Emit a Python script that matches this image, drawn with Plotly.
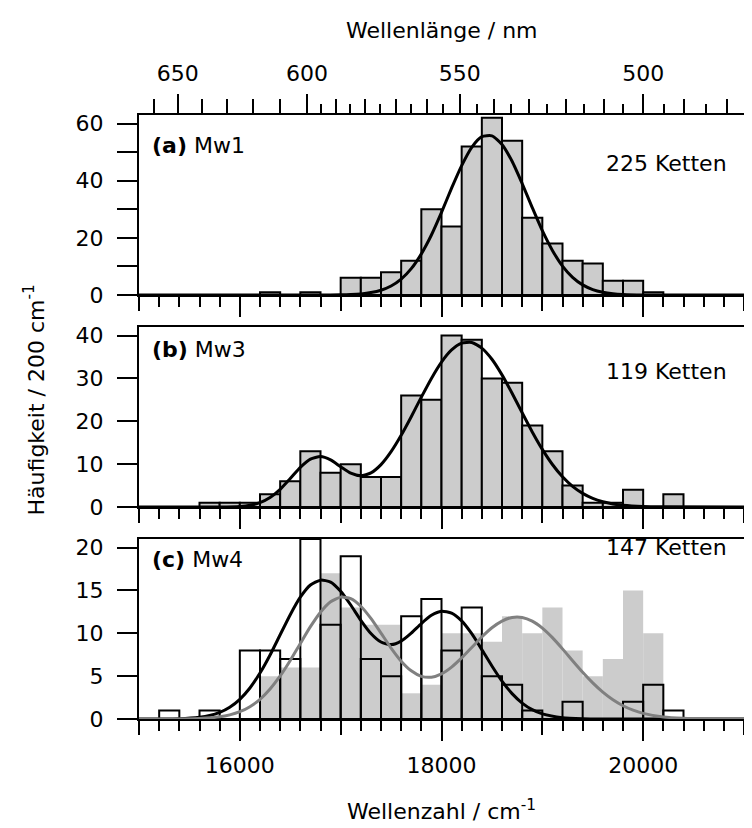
import plotly.graph_objects as go

FONT = dict(family="DejaVu Sans, Liberation Sans, Arial, sans-serif", size=22, color="black")
BAR_GREY = "#cccccc"
FIT_GREY = "#808080"

# histogram bins (left edges, 200 cm-1 wide)
bin_edges = [15200, 15400, 15600, 15800, 16000, 16200, 16400, 16600, 16800, 17000,
             17200, 17400, 17600, 17800, 18000, 18200, 18400, 18600, 18800, 19000,
             19200, 19400, 19600, 19800, 20000, 20200, 20400]

counts_mw1 = [0, 0, 0, 0, 0, 1, 0, 1, 0, 6, 6, 8, 12, 30, 24, 52, 62, 54, 27, 18,
              12, 11, 5, 5, 1, 0, 0]
counts_mw3 = [0, 0, 1, 1, 1, 3, 6, 13, 8, 10, 7, 7, 26, 25, 40, 39, 30, 29, 19, 13,
              5, 1, 1, 4, 0, 3, 0]
counts_mw4_open = [1, 0, 1, 0, 8, 8, 7, 21, 11, 19, 7, 5, 12, 14, 8, 13, 5, 4, 1, 0,
                   2, 0, 0, 2, 4, 1, 0]
counts_mw4_grey = [0, 0, 0, 0, 0, 5, 6, 6, 17, 13, 11, 11, 3, 4, 10, 10, 9, 12, 10, 13,
                   8, 5, 7, 15, 10, 0, 0]

# fitted curves
fit_mw1_x = [15000, 16400, 16800, 17000, 17100, 17200, 17300, 17400, 17500, 17600,
             17700, 17800, 17900, 18000, 18100, 18200, 18300, 18400, 18500, 18600,
             18700, 18800, 18900, 19000, 19100, 19200, 19300, 19400, 19500, 19600,
             19700, 19800, 20000, 20400, 21000]
fit_mw1_y = [0, 0, 0.01, 0.07, 0.17, 0.39, 0.84, 1.67, 3.14, 5.55,
             9.21, 14.4, 21.0, 28.9, 37.4, 45.3, 51.7, 55.4, 55.7, 52.7,
             46.8, 39.0, 30.6, 22.5, 15.6, 10.1, 6.18, 3.54, 1.90, 0.97,
             0.46, 0.2, 0.03, 0, 0]

fit_mw3_x = [15000, 15800, 16000, 16100, 16200, 16300, 16400, 16500, 16600, 16700,
             16800, 16900, 17000, 17100, 17200, 17300, 17400, 17500, 17600, 17700,
             17800, 17900, 18000, 18100, 18200, 18300, 18400, 18500, 18600, 18700,
             18800, 18900, 19000, 19100, 19200, 19300, 19400, 19500, 19600, 19700,
             19800, 20000, 20200, 21000]
fit_mw3_y = [0, 0.01, 0.14, 0.41, 1.02, 2.20, 4.12, 6.63, 9.24, 11.16,
             11.77, 10.98, 9.39, 7.90, 7.29, 7.95, 9.88, 12.91, 16.73, 21.07,
             25.63, 30.01, 33.81, 36.65, 38.23, 38.38, 37.08, 34.47, 30.83, 26.54,
             21.98, 17.52, 13.44, 9.92, 7.04, 4.81, 3.17, 2.0, 1.22, 0.72,
             0.40, 0.11, 0.03, 0]

fit_mw4_open_x = [15000, 15200, 15400, 15600, 15700, 15800, 15900, 16000, 16100, 16200,
                  16300, 16400, 16500, 16600, 16700, 16800, 16900, 17000, 17100, 17200,
                  17300, 17400, 17500, 17600, 17700, 17800, 17900, 18000, 18100, 18200,
                  18300, 18400, 18500, 18600, 18700, 18800, 18900, 19000, 19200, 19400,
                  19600, 21000]
fit_mw4_open_y = [0, 0.01, 0.04, 0.21, 0.41, 0.78, 1.38, 2.30, 3.62, 5.36,
                  7.47, 9.83, 12.17, 14.21, 15.63, 16.20, 15.98, 14.90, 13.30, 11.52,
                  9.98, 8.98, 8.68, 9.09, 10.02, 11.14, 12.10, 12.58, 12.36, 11.45,
                  9.95, 8.10, 6.19, 4.42, 2.96, 1.86, 1.09, 0.60, 0.15, 0.03,
                  0, 0]

fit_mw4_grey_x = [15000, 15600, 15800, 15900, 16000, 16100, 16200, 16300, 16400, 16500,
                  16600, 16700, 16800, 16900, 17000, 17100, 17200, 17300, 17400, 17500,
                  17600, 17700, 17800, 17900, 18000, 18100, 18200, 18300, 18400, 18500,
                  18600, 18700, 18800, 18900, 19000, 19100, 19200, 19300, 19400, 19500,
                  19600, 19700, 19800, 19900, 20000, 20200, 20400, 20600, 21000]
fit_mw4_grey_y = [0, 0.06, 0.25, 0.48, 0.85, 1.44, 2.30, 3.50, 5.02, 6.83,
                  8.81, 10.77, 12.46, 13.68, 14.22, 14.04, 13.15, 11.73, 10.02, 8.28,
                  6.75, 5.62, 4.98, 4.88, 5.27, 6.06, 7.13, 8.35, 9.57, 10.64,
                  11.42, 11.85, 11.85, 11.42, 10.60, 9.49, 8.18, 6.80, 5.45, 4.21,
                  3.13, 2.24, 1.55, 1.03, 0.66, 0.24, 0.08, 0.02, 0]

# wavelength axis (top), nm
wl_labels = [650, 600, 550, 500]
wl_mid = [660, 640, 630, 620, 610, 590, 580, 570, 560, 540, 530, 520, 510, 490, 480]
wl_small = [595, 585, 575, 565, 555, 545, 535, 525, 515, 505, 495, 485]

panel_tags = ["(a)", "(b)", "(c)"]
samples = ["Mw1", "Mw3", "Mw4"]
chains = [225, 119, 147]

X_RANGE = [15000, 21000]


def to_wavenumber(nm_list):
    return [1e7 / nm for nm in nm_list]


fig = go.Figure()


def bars(counts, xa, ya, fill, line_w):
    fig.add_trace(go.Bar(x=bin_edges, y=counts, width=200, offset=0, xaxis=xa, yaxis=ya,
                         marker=dict(color=fill, line=dict(color="black", width=line_w)),
                         showlegend=False, hoverinfo="skip"))


def curve(xs, ys, xa, ya, color):
    fig.add_trace(go.Scatter(x=xs, y=ys, xaxis=xa, yaxis=ya, mode="lines",
                             line=dict(color=color, width=3, shape="spline", smoothing=0.6),
                             showlegend=False, hoverinfo="skip"))


# panel a
bars(counts_mw1, "x", "y", BAR_GREY, 2)
curve(fit_mw1_x, fit_mw1_y, "x", "y", "black")
# panel b
bars(counts_mw3, "x2", "y2", BAR_GREY, 2)
curve(fit_mw3_x, fit_mw3_y, "x2", "y2", "black")
# panel c
bars(counts_mw4_grey, "x3", "y3", BAR_GREY, 0)
bars(counts_mw4_open, "x3", "y3", "rgba(0,0,0,0)", 2)
curve(fit_mw4_open_x, fit_mw4_open_y, "x3", "y3", "black")
curve(fit_mw4_grey_x, fit_mw4_grey_y, "x3", "y3", FIT_GREY)

# empty traces so the extra tick axes get drawn
for xa, ya in [("x4", "y"), ("x5", "y"), ("x6", "y"), ("x7", "y2"), ("x8", "y3")]:
    fig.add_trace(go.Scatter(x=[None], y=[None], xaxis=xa, yaxis=ya, showlegend=False, hoverinfo="skip"))

tick_common = dict(ticks="outside", tickwidth=2, tickcolor="black", showgrid=False,
                   zeroline=False, automargin=False)


def x_axis(anchor, labels):
    return dict(domain=[0, 1], range=X_RANGE, anchor=anchor, showline=True, linewidth=2,
                linecolor="black", mirror=True, ticklen=20, tickmode="linear", tick0=16000,
                dtick=2000, tickformat="d", showticklabels=labels, tickfont=FONT,
                ticklabelstandoff=6,
                minor=dict(ticks="outside", ticklen=10, tickwidth=2, tickcolor="black",
                           tickmode="linear", tick0=15000, dtick=200),
                **tick_common)


def mid_axis(over, anchor, side, vals):
    return dict(overlaying=over, anchor=anchor, side=side, range=X_RANGE, showline=False,
                ticklen=15, tickmode="array", tickvals=vals, showticklabels=False, **tick_common)


def y_axis(domain, top, dtick, minor_dtick, anchor):
    d = dict(domain=domain, range=[0, top], anchor=anchor, showline=True, linewidth=2,
             linecolor="black", mirror="allticks", ticklen=20, tickmode="linear", tick0=0,
             dtick=dtick, tickfont=FONT, ticklabelstandoff=9, **tick_common)
    if minor_dtick:
        d["minor"] = dict(ticks="outside", ticklen=11, tickwidth=2, tickcolor="black",
                          tickmode="linear", tick0=0, dtick=minor_dtick)
    return d


# page body adds 8px offset, so the figure is 744x820
fig.update_layout(
    width=744, height=820,
    margin=dict(l=131, r=8, t=107, b=109),
    paper_bgcolor="white", plot_bgcolor="white",
    barmode="overlay", font=FONT,
    xaxis=x_axis("y", False),
    xaxis2=x_axis("y2", False),
    xaxis3=x_axis("y3", True),
    yaxis=y_axis([0.702, 1.0], 63, 20, 10, "x"),
    yaxis2=y_axis([0.351, 0.649], 42, 10, None, "x2"),
    yaxis3=y_axis([0.0, 0.298], 21, 5, None, "x3"),
    xaxis4=dict(overlaying="x", anchor="y", side="top", range=X_RANGE, showline=False,
                ticklen=20, tickmode="array", tickvals=to_wavenumber(wl_labels),
                ticktext=[str(v) for v in wl_labels], tickfont=FONT, ticklabelstandoff=4,
                minor=dict(ticks="outside", ticklen=10, tickwidth=2, tickcolor="black",
                           tickmode="array", tickvals=to_wavenumber(wl_small)),
                **tick_common),
    xaxis5=mid_axis("x", "y", "top", to_wavenumber(wl_mid)),
    xaxis6=mid_axis("x", "y", "bottom", [15000, 17000, 19000, 21000]),
    xaxis7=mid_axis("x2", "y2", "bottom", [15000, 17000, 19000, 21000]),
    xaxis8=mid_axis("x3", "y3", "bottom", [15000, 17000, 19000, 21000]),
)

# panel labels
tag_y = [0.833, 0.875, 0.885]
chain_y = [0.733, 0.753, 0.952]
for i, (xr, yr) in enumerate([("x", "y"), ("x2", "y2"), ("x3", "y3")]):
    fig.add_annotation(text=f"<b>{panel_tags[i]}</b> {samples[i]}", xref=f"{xr} domain",
                       yref=f"{yr} domain", x=0.018, y=tag_y[i], xanchor="left",
                       yanchor="middle", showarrow=False, font=FONT)
    fig.add_annotation(text=f"{chains[i]} Ketten", xref=f"{xr} domain", yref=f"{yr} domain",
                       x=0.975, y=chain_y[i], xanchor="right", yanchor="middle",
                       showarrow=False, font=FONT)

# axis titles
fig.add_annotation(text="Wellenlänge / nm", xref="paper", yref="paper", x=0.5, y=1.1407,
                   xanchor="center", yanchor="middle", showarrow=False, font=FONT)
fig.add_annotation(text="Wellenzahl / cm<sup>-1</sup>", xref="paper", yref="paper", x=0.5,
                   y=-0.150, xanchor="center", yanchor="middle", showarrow=False, font=FONT)
fig.add_annotation(text="Häufigkeit / 200 cm<sup>-1</sup>", xref="paper", yref="paper",
                   x=-0.172, y=0.529, xanchor="center", yanchor="middle", textangle=-90,
                   showarrow=False, font=FONT)

fig.write_html("out.html")
